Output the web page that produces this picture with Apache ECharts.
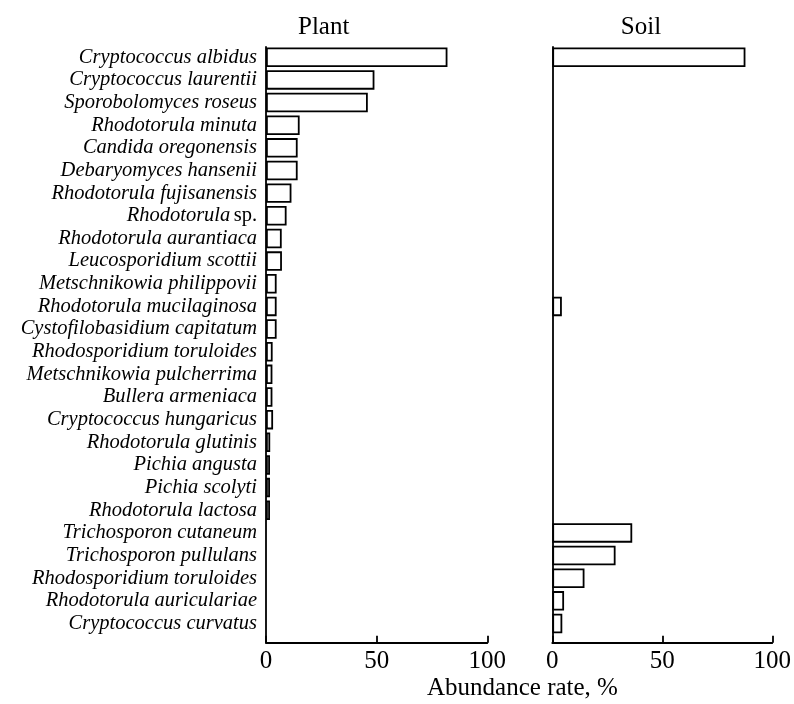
<!DOCTYPE html>
<html>
<head>
<meta charset="utf-8">
<script src="https://cdn.jsdelivr.net/npm/echarts@6/dist/echarts.min.js"></script>
<style>
html,body{margin:0;padding:0;background:#fff;}
#chart{width:794px;height:704px;}
</style>
</head>
<body>
<div id="chart"></div>
<script>
var categories = [
  "Cryptococcus albidus","Cryptococcus laurentii","Sporobolomyces roseus","Rhodotorula minuta",
  "Candida oregonensis","Debaryomyces hansenii","Rhodotorula fujisanensis","Rhodotorula sp.",
  "Rhodotorula aurantiaca","Leucosporidium scottii","Metschnikowia philippovii","Rhodotorula mucilaginosa",
  "Cystofilobasidium capitatum","Rhodosporidium toruloides","Metschnikowia pulcherrima","Bullera armeniaca",
  "Cryptococcus hungaricus","Rhodotorula glutinis","Pichia angusta","Pichia scolyti",
  "Rhodotorula lactosa","Trichosporon cutaneum","Trichosporon pullulans","Rhodosporidium toruloides",
  "Rhodotorula auriculariae","Cryptococcus curvatus"
];
var plantValues = [82, 49, 46, 15.2, 14.3, 14.3, 11.5, 9.3, 7.1, 7.2, 4.8, 4.8, 4.8, 3.0, 2.9, 2.9, 3.2, 1.9, 1.8, 1.8, 1.8, null, null, null, null, null];
var soilValues = [87, null, null, null, null, null, null, null, null, null, null, 4.3, null, null, null, null, null, null, null, null, null, 36, 28.5, 14.5, 5.3, 4.5];
var xTicks = [0, 50, 100];
var panelTitles = ["Plant", "Soil"];
var axisTitle = "Abundance rate, %";

var SERIF = "'Liberation Serif','Times New Roman',serif";

var chart = echarts.init(document.getElementById('chart'), null, {renderer:'canvas'});

var barTop = 45.9, barH = 26 * 22.65;
var frameTop = 47, frameBottomY = 642.7;
var panels = [{left:266, width:221.3}, {left:552.3, width:222}];

var grids = [], xAxes = [], yAxes = [], series = [];
panels.forEach(function(p){
  grids.push({left:p.left, top:barTop, width:p.width, height:barH, containLabel:false});
  grids.push({left:p.left, top:frameTop, width:p.width, height:frameBottomY - frameTop, containLabel:false});
});

for (var k = 0; k < 2; k++) {
  var gBar = k * 2, gFrame = k * 2 + 1;
  xAxes.push({gridIndex:gBar, type:'value', min:0, max:100, show:false});
  yAxes.push({
    gridIndex:gBar, type:'category', data:categories, inverse:true,
    axisLine:{show:false}, axisTick:{show:false}, splitLine:{show:false},
    axisLabel:{
      show: k === 0, margin:9, align:'right',
      formatter:function(v){
        if (/ sp\.$/.test(v)) { return '{i|' + v.replace(/ sp\.$/, '') + '} {n|sp.}'; }
        return '{i|' + v + '}';
      },
      rich:{
        i:{fontFamily:SERIF, fontStyle:'italic', fontSize:20.5, color:'#000'},
        n:{fontFamily:SERIF, fontStyle:'normal', fontSize:20.5, color:'#000'}
      }
    }
  });
  xAxes.push({
    gridIndex:gFrame, type:'value', min:xTicks[0], max:xTicks[xTicks.length-1], interval:xTicks[1]-xTicks[0],
    axisLine:{show:true, lineStyle:{color:'#000', width:1.8}},
    axisTick:{show:true, inside:true, length:7, lineStyle:{color:'#000', width:1.8}},
    splitLine:{show:false},
    axisLabel:{show:true, margin:6, fontFamily:SERIF, fontSize:25, color:'#000',
      formatter:function(v){ return xTicks.indexOf(v) >= 0 ? String(v) : ''; }}
  });
  yAxes.push({
    gridIndex:gFrame, type:'value', min:0, max:1,
    axisLine:{show:true, onZero:false, lineStyle:{color:'#000', width:1.8}},
    axisTick:{show:false}, axisLabel:{show:false}, splitLine:{show:false}
  });
}

function mkSeries(name, vals, axisIndex){
  return {
    name:name, type:'bar', xAxisIndex:axisIndex, yAxisIndex:axisIndex,
    data:vals, barWidth:19.5, silent:true,
    itemStyle:{color:'#fff', borderColor:'#000', borderWidth:1.8}
  };
}
series.push(mkSeries('Plant', plantValues, 0));
series.push(mkSeries('Soil', soilValues, 2));

var option = {
  animation:false,
  backgroundColor:'#fff',
  grid:grids,
  xAxis:xAxes,
  yAxis:yAxes,
  series:series,
  graphic:[
    {type:'text', x:323.7, y:27, style:{text:panelTitles[0], font:'25px ' + SERIF, fill:'#000', textAlign:'center', textVerticalAlign:'middle'}},
    {type:'text', x:641, y:27, style:{text:panelTitles[1], font:'25px ' + SERIF, fill:'#000', textAlign:'center', textVerticalAlign:'middle'}},
    {type:'text', x:522.5, y:688, style:{text:axisTitle, font:'25px ' + SERIF, fill:'#000', textAlign:'center', textVerticalAlign:'middle'}}
  ]
};
chart.setOption(option);
</script>
</body>
</html>
